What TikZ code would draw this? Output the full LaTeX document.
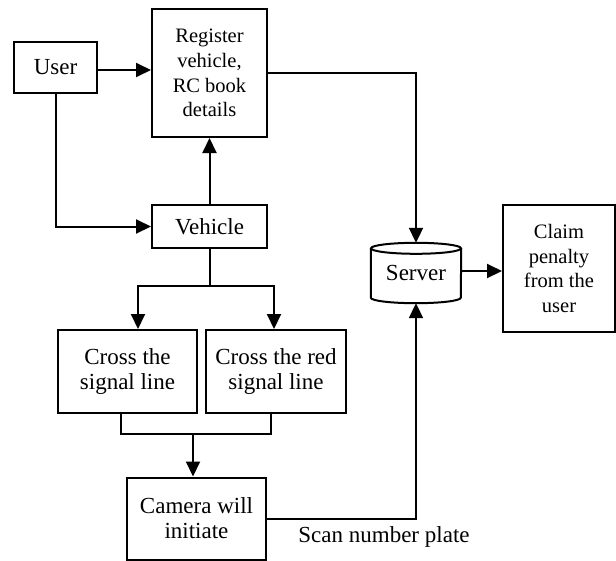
\documentclass[tikz,border=0pt]{standalone}
\usepackage{fontspec}
\setmainfont{Liberation Serif}
\usetikzlibrary{arrows.meta,calc}
\begin{document}
\begin{tikzpicture}[x=1pt,y=-1pt,
  box/.style={draw,line width=2pt,rectangle,inner sep=0pt,align=center,
    font=\fontsize{23}{25}\selectfont},
  smallbox/.style={box,font=\fontsize{20.5}{24.8}\selectfont},
  conn/.style={line width=2pt},
  arr/.style={conn,-{Triangle[length=15pt,width=14pt]}}]
\useasboundingbox[fill=white] (0,0) rectangle (616,560);
% nodes
\node[box,minimum width=83pt,minimum height=51pt] (user) at (55.5,67.5) {User};
\node[smallbox,minimum width=115pt,minimum height=128pt] (reg) at (209.5,73) {Register\\vehicle,\\RC book\\details};
\node[box,minimum width=115pt,minimum height=43pt] (veh) at (209.5,226.5) {Vehicle};
\node[box,minimum width=139pt,minimum height=83pt] (c1) at (127.5,371.5) {Cross the\\signal line};
\node[box,minimum width=140pt,minimum height=83pt] (c2) at (276,371.5) {Cross the red\\signal line};
\node[box,minimum width=139pt,minimum height=82pt] (cam) at (196.5,518.5) {Camera will\\initiate};
\node[smallbox,minimum width=112pt,minimum height=127pt] (claim) at (559,268.5) {Claim\\penalty\\from the\\user};
\node[inner sep=0pt,minimum width=90pt,minimum height=60pt,
  font=\fontsize{23}{25}\selectfont] (server) at (416,273) {Server};
% cylinder outline of server
\draw[conn] ($(server.north)+(0,5.5)$) ellipse [x radius=45pt, y radius=5.5pt];
\draw[conn] ($(server.north west)+(0,5.5)$) -- ($(server.south west)+(0,-5.5)$)
  arc[start angle=180,end angle=360,x radius=45pt,y radius=5.5pt]
  -- ($(server.north east)+(0,5.5)$);
\node[font=\fontsize{23}{25}\selectfont,inner sep=0pt] (scan) at (384,537) {Scan number plate};
% coordinates
\coordinate (split) at (209.5,286);
\coordinate (jl) at (121,434);
\coordinate (jr) at (271,434);
\coordinate (jm) at (193,434);
% connectors
\draw[arr] (user.east |- 0,70) -- (reg.west |- 0,70);
\draw[arr] (user.south) |- (veh.west);
\draw[arr] (veh.north) -- (reg.south);
\draw[arr] (reg.east) -| (server.north);
\draw[arr] (server.east |- 0,271) -- (claim.west |- 0,271);
\draw[conn] (veh.south) -- (split);
\draw[arr] (split) -| ($(c1.north)+(10.5,0)$);
\draw[arr] (split) -| ($(c2.north)+(-2,0)$);
\draw[conn] (jl |- c1.south) -- (jl) -- (jr) -- (jr |- c2.south);
\draw[arr] (jm) -- (jm |- cam.north);
\draw[arr] (cam.east) -| (server.south);
\end{tikzpicture}
\end{document}
